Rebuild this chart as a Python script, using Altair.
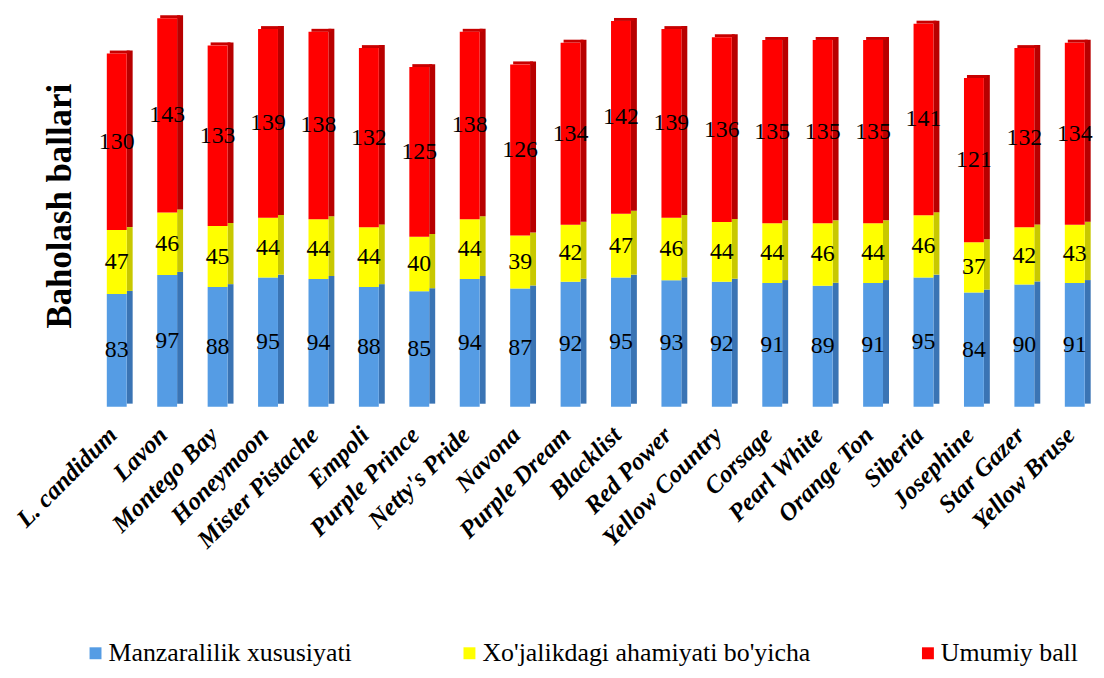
import altair as alt
import pandas as pd

names = ["L. candidum", "Lavon", "Montego Bay", "Honeymoon", "Mister Pistache", "Empoli",
         "Purple Prince", "Netty's Pride", "Navona", "Purple Dream", "Blacklist", "Red Power",
         "Yellow Country", "Corsage", "Pearl White", "Orange Ton", "Siberia", "Josephine",
         "Star Gazer", "Yellow Bruse"]
manzara = [83, 97, 88, 95, 94, 88, 85, 94, 87, 92, 95, 93, 92, 91, 89, 91, 95, 84, 90, 91]
xojalik = [47, 46, 45, 44, 44, 44, 40, 44, 39, 42, 47, 46, 44, 44, 46, 44, 46, 37, 42, 43]
umumiy = [130, 143, 133, 139, 138, 132, 125, 138, 126, 134, 142, 139, 136, 135, 135, 135, 141, 121, 132, 134]

series = ["Manzaralilik xususiyati", "Xo'jalikdagi ahamiyati bo'yicha", "Umumiy ball"]
front_colors = ["#559CE4", "#FFFF00", "#FF0000"]
side_colors = ["#3A74B4", "#C8C800", "#B80000"]

rows = []
for i, n in enumerate(names):
    for k, (s, vals) in enumerate(zip(series, [manzara, xojalik, umumiy])):
        rows.append({"name": n, "series": s, "value": vals[i], "order": k})
df = pd.DataFrame(rows)

serif = "Liberation Serif, Times New Roman, serif"

base = alt.Chart(df).transform_stack(
    stack="value", groupby=["name"], sort=[alt.SortField("order", "ascending")], as_=["y0", "y1"]
)

x_enc = alt.X(
    "name:N", sort=names,
    scale=alt.Scale(paddingInner=0, paddingOuter=0, range=[0, 1014]),
    axis=alt.Axis(title=None, labelAngle=315, labelAlign="right", labelBaseline="middle",
                  labelFont=serif, labelFontSize=25, labelFontWeight="bold", labelFontStyle="italic",
                  labelColor="black", domain=False, ticks=False, labelPadding=24, labelOffset=-4,
                  labelLimit=400),
)
y_axis = alt.Axis(title="Baholash ballari", labels=False, ticks=False, domain=False, grid=False,
                  titleFont=serif, titleFontSize=35, titleFontWeight="bold", titleColor="black",
                  titleAngle=270, titleX=-21, titleY=194, titleBaseline="alphabetic", titleAlign="center")
y_scale = alt.Scale(domain=[0, 290], nice=False, zero=True)

front = base.mark_bar(size=20).encode(
    x=x_enc,
    y=alt.Y("y0:Q", scale=y_scale, axis=y_axis),
    y2="y1:Q",
    color=alt.Color("series:N", sort=series,
                    scale=alt.Scale(domain=series, range=front_colors),
                    legend=alt.Legend(title=None, orient="none", legendX=-9, legendY=631,
                                      direction="horizontal", columnPadding=105,
                                      symbolType="square", symbolSize=144, symbolStrokeWidth=0,
                                      labelFont=serif, labelFontSize=26, labelColor="black",
                                      labelOffset=0, padding=0, labelLimit=600)),
)

side = base.mark_bar(size=6, xOffset=13, yOffset=-3, y2Offset=-3).encode(
    x=x_enc,
    y=alt.Y("y0:Q", scale=y_scale, axis=y_axis),
    y2="y1:Q",
    color=alt.Color("series:N", scale=alt.Scale(domain=series, range=side_colors), legend=None),
)

cap = base.transform_filter(alt.datum.order == 2).mark_bar(
    size=20, xOffset=3, yOffset=-3, color="#C80000"
).encode(
    x=x_enc,
    y=alt.Y("y1:Q", scale=y_scale, axis=y_axis),
    y2="y1:Q",
)

labels = base.transform_calculate(mid="(datum.y0 + datum.y1) / 2").mark_text(
    font=serif, fontSize=24, color="black"
).encode(
    x=x_enc,
    y=alt.Y("mid:Q", scale=y_scale, axis=y_axis),
    text="value:Q",
)

chart = alt.layer(side, cap, front, labels).resolve_scale(color="independent").properties(
    width=1010, height=396,
    autosize=alt.AutoSizeParams(type="none"),
    padding={"left": 84, "top": 3, "right": 0, "bottom": 263},
    background="white",
).configure_view(stroke=None)

chart.save("out.html", embed_options={"renderer": "svg", "actions": False})
